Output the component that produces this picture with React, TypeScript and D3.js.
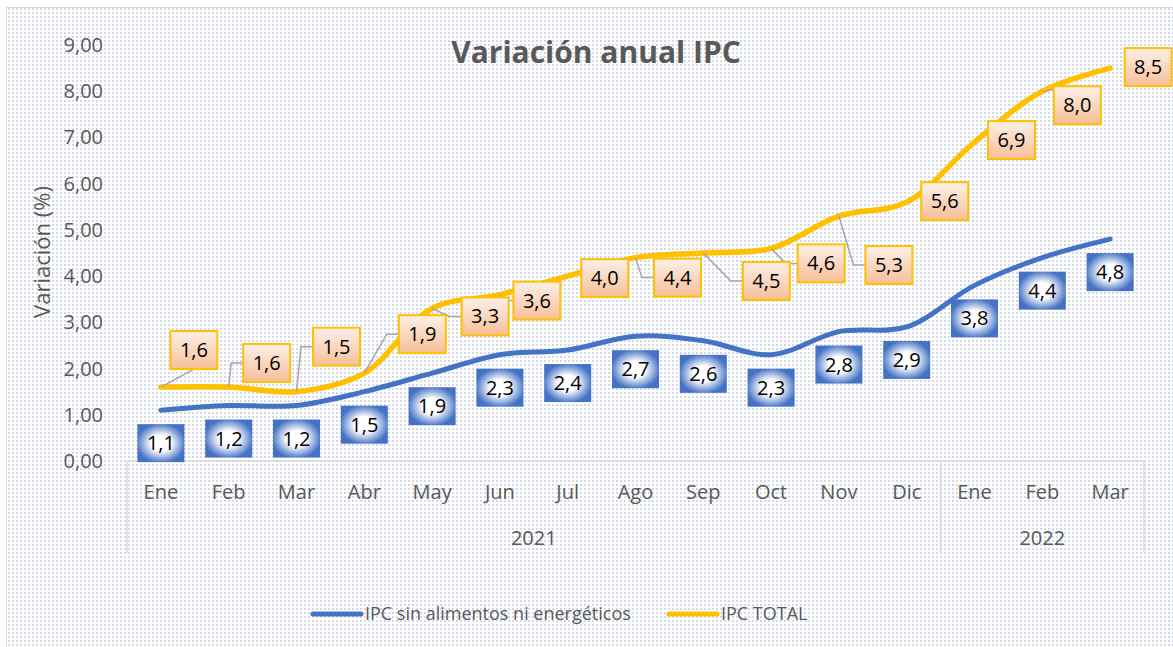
import { useEffect, useRef } from 'react'
import * as d3 from 'd3'

const months = ['Ene', 'Feb', 'Mar', 'Abr', 'May', 'Jun', 'Jul', 'Ago', 'Sep', 'Oct', 'Nov', 'Dic', 'Ene', 'Feb', 'Mar']
const years = [
  { label: '2021', count: 12 },
  { label: '2022', count: 3 },
]
const ipcSinAlimentos = [1.1, 1.2, 1.2, 1.5, 1.9, 2.3, 2.4, 2.7, 2.6, 2.3, 2.8, 2.9, 3.8, 4.4, 4.8]
const ipcTotal = [1.6, 1.6, 1.5, 1.9, 3.3, 3.6, 4.0, 4.4, 4.5, 4.6, 5.3, 5.6, 6.9, 8.0, 8.5]
const yTicks = [0, 1, 2, 3, 4, 5, 6, 7, 8, 9]

// the IPC TOTAL labels were dragged by hand in the original, offsets in px from the point
const totalLabelOffsets = [
  [33, -37], [38, -24], [40, -45], [58, -39], [53, 8], [37, 6], [37, 2], [42, 20],
  [63, 28], [50, 15], [50, 49], [38, -1], [37, -2], [35, 14], [38, -1],
]

const W = 1173
const H = 647
const FONT = '"Open Sans", "Noto Sans", sans-serif'
const fmt = (v: number) => v.toFixed(1).replace('.', ',')

export default function App() {
  const svgRef = useRef<SVGSVGElement>(null)

  useEffect(() => {
    if (!svgRef.current) return
    const svg = d3.select(svgRef.current)
    svg.selectAll('*').remove()

    const left = 127
    const right = 1144
    const top = 45
    const bottom = 461

    const x = d3.scaleBand<number>().domain(d3.range(months.length)).range([left, right])
    const cx = (i: number) => (x(i) as number) + x.bandwidth() / 2
    const y = d3.scaleLinear().domain([0, 9]).range([bottom, top])

    const defs = svg.append('defs')
    const pat = defs.append('pattern')
      .attr('id', 'dots')
      .attr('patternUnits', 'userSpaceOnUse')
      .attr('width', 4)
      .attr('height', 4)
    pat.append('rect').attr('width', 4).attr('height', 4).attr('fill', '#ffffff')
    pat.append('rect').attr('width', 2).attr('height', 2).attr('fill', '#d3d8e6')

    const blueGrad = defs.append('radialGradient').attr('id', 'blueGrad')
      .attr('cx', '50%').attr('cy', '50%').attr('r', '70%')
    blueGrad.append('stop').attr('offset', '0%').attr('stop-color', '#ffffff')
    blueGrad.append('stop').attr('offset', '30%').attr('stop-color', '#ffffff')
    blueGrad.append('stop').attr('offset', '75%').attr('stop-color', '#4472c4')

    const orangeGrad = defs.append('linearGradient').attr('id', 'orangeGrad')
      .attr('x1', 0).attr('y1', 0).attr('x2', 0).attr('y2', 1)
    orangeGrad.append('stop').attr('offset', '0%').attr('stop-color', '#fdf0e7')
    orangeGrad.append('stop').attr('offset', '100%').attr('stop-color', '#f6bf98')

    // background + border
    svg.append('rect').attr('width', W).attr('height', H).attr('fill', '#ffffff')
    svg.append('rect')
      .attr('x', 6.5).attr('y', 7.5)
      .attr('width', W).attr('height', H)
      .attr('fill', 'url(#dots)')
      .attr('stroke', '#d9d9d9')

    // title
    svg.append('text')
      .attr('x', 596).attr('y', 63)
      .attr('text-anchor', 'middle')
      .style('font-family', FONT)
      .style('font-size', '30px')
      .style('font-weight', 700)
      .style('fill', '#595959')
      .text('Variación anual IPC')

    // y axis labels
    svg.append('g').selectAll('text')
      .data(yTicks)
      .enter().append('text')
      .attr('x', 103)
      .attr('y', d => y(d))
      .attr('dy', '0.35em')
      .attr('text-anchor', 'end')
      .style('font-family', FONT)
      .style('font-size', '20px')
      .style('fill', '#595959')
      .text(d => d.toFixed(2).replace('.', ','))

    svg.append('text')
      .attr('transform', 'translate(42,252) rotate(-90)')
      .attr('text-anchor', 'middle')
      .attr('dy', '0.35em')
      .style('font-family', FONT)
      .style('font-size', '22px')
      .style('fill', '#595959')
      .text('Variación (%)')

    // category axis (two levels)
    const axisBottom = 553
    const ax = svg.append('g').attr('stroke', '#d9d9d9').attr('stroke-width', 1.5)
    ax.append('line').attr('x1', left).attr('x2', right).attr('y1', bottom).attr('y2', bottom)
    let start = 0
    const bounds = [0]
    years.forEach(yr => { start += yr.count; bounds.push(start) })
    bounds.forEach(b => {
      const bx = b === months.length ? right : (x(b) as number)
      ax.append('line').attr('x1', bx).attr('x2', bx).attr('y1', bottom).attr('y2', axisBottom)
    })

    svg.append('g').selectAll('text')
      .data(months)
      .enter().append('text')
      .attr('x', (_, i) => cx(i))
      .attr('y', 499)
      .attr('text-anchor', 'middle')
      .style('font-family', FONT)
      .style('font-size', '20px')
      .style('fill', '#595959')
      .text(d => d)

    svg.append('g').selectAll('text')
      .data(years)
      .enter().append('text')
      .attr('x', (_, i) => {
        const a = x(bounds[i]) as number
        const b = bounds[i + 1] === months.length ? right : (x(bounds[i + 1]) as number)
        return (a + b) / 2
      })
      .attr('y', 545)
      .attr('text-anchor', 'middle')
      .style('font-family', FONT)
      .style('font-size', '20px')
      .style('fill', '#595959')
      .text(d => d.label)

    // lines
    const line = d3.line<number>()
      .x((_, i) => cx(i))
      .y(d => y(d))
      .curve(d3.curveCatmullRom.alpha(0.5))

    svg.append('path')
      .attr('d', line(ipcSinAlimentos))
      .attr('fill', 'none')
      .attr('stroke', '#4472c4')
      .attr('stroke-width', 5)
      .attr('stroke-linecap', 'round')

    svg.append('path')
      .attr('d', line(ipcTotal))
      .attr('fill', 'none')
      .attr('stroke', '#ffc000')
      .attr('stroke-width', 5.5)
      .attr('stroke-linecap', 'round')

    const bw = 47
    const bh = 38

    // leader lines for the moved IPC TOTAL labels
    const leaders = svg.append('g')
      .attr('fill', 'none')
      .attr('stroke', '#a6a6a6')
      .attr('stroke-width', 1.5)
    ipcTotal.forEach((v, i) => {
      const [dx, dy] = totalLabelOffsets[i]
      if (Math.abs(dy) < 5 && dx < 45) return
      const px = cx(i)
      const py = y(v)
      const lx = px + dx
      const ly = py + dy
      const boxLeft = lx - bw / 2
      let pts: [number, number][]
      if (boxLeft - px < 12) {
        const edgeY = dy < 0 ? ly + bh / 2 : ly - bh / 2
        pts = [[px, py], [lx, edgeY]]
      } else {
        const elbow = Math.max(px, boxLeft - 12)
        pts = [[px, py], [elbow, ly], [boxLeft, ly]]
      }
      leaders.append('path').attr('d', d3.line()(pts))
    })

    // IPC sin alimentos labels (below)
    const blueLabels = svg.append('g').selectAll('g')
      .data(ipcSinAlimentos)
      .enter().append('g')
      .attr('transform', (d, i) => `translate(${cx(i)},${y(d) + 33})`)
    blueLabels.append('rect')
      .attr('x', -bw / 2).attr('y', -bh / 2)
      .attr('width', bw).attr('height', bh)
      .attr('fill', 'url(#blueGrad)')
    blueLabels.append('text')
      .attr('text-anchor', 'middle')
      .attr('dy', '0.35em')
      .style('font-family', FONT)
      .style('font-size', '20px')
      .style('fill', '#000000')
      .text(d => fmt(d))

    // IPC TOTAL labels
    const orangeLabels = svg.append('g').selectAll('g')
      .data(ipcTotal)
      .enter().append('g')
      .attr('transform', (d, i) => `translate(${cx(i) + totalLabelOffsets[i][0]},${y(d) + totalLabelOffsets[i][1]})`)
    orangeLabels.append('rect')
      .attr('x', -bw / 2).attr('y', -bh / 2)
      .attr('width', bw).attr('height', bh)
      .attr('fill', 'url(#orangeGrad)')
      .attr('stroke', '#ffc000')
      .attr('stroke-width', 2)
    orangeLabels.append('text')
      .attr('text-anchor', 'middle')
      .attr('dy', '0.35em')
      .style('font-family', FONT)
      .style('font-size', '20px')
      .style('fill', '#000000')
      .text(d => fmt(d))

    // legend
    const legend = [
      { label: 'IPC sin alimentos ni energéticos', color: '#4472c4', x: 313 },
      { label: 'IPC TOTAL', color: '#ffc000', x: 669 },
    ]
    const lg = svg.append('g').selectAll('g')
      .data(legend)
      .enter().append('g')
      .attr('transform', d => `translate(${d.x},614)`)
    lg.append('line')
      .attr('x1', 0).attr('x2', 48)
      .attr('stroke', d => d.color)
      .attr('stroke-width', 5)
      .attr('stroke-linecap', 'round')
    lg.append('text')
      .attr('x', 52)
      .attr('dy', '0.35em')
      .style('font-family', FONT)
      .style('font-size', '18px')
      .style('fill', '#595959')
      .text(d => d.label)
  }, [])

  return (
    <svg
      ref={svgRef}
      width={W}
      height={H}
      style={{ position: 'absolute', left: 0, top: 0, display: 'block' }}
    />
  )
}
